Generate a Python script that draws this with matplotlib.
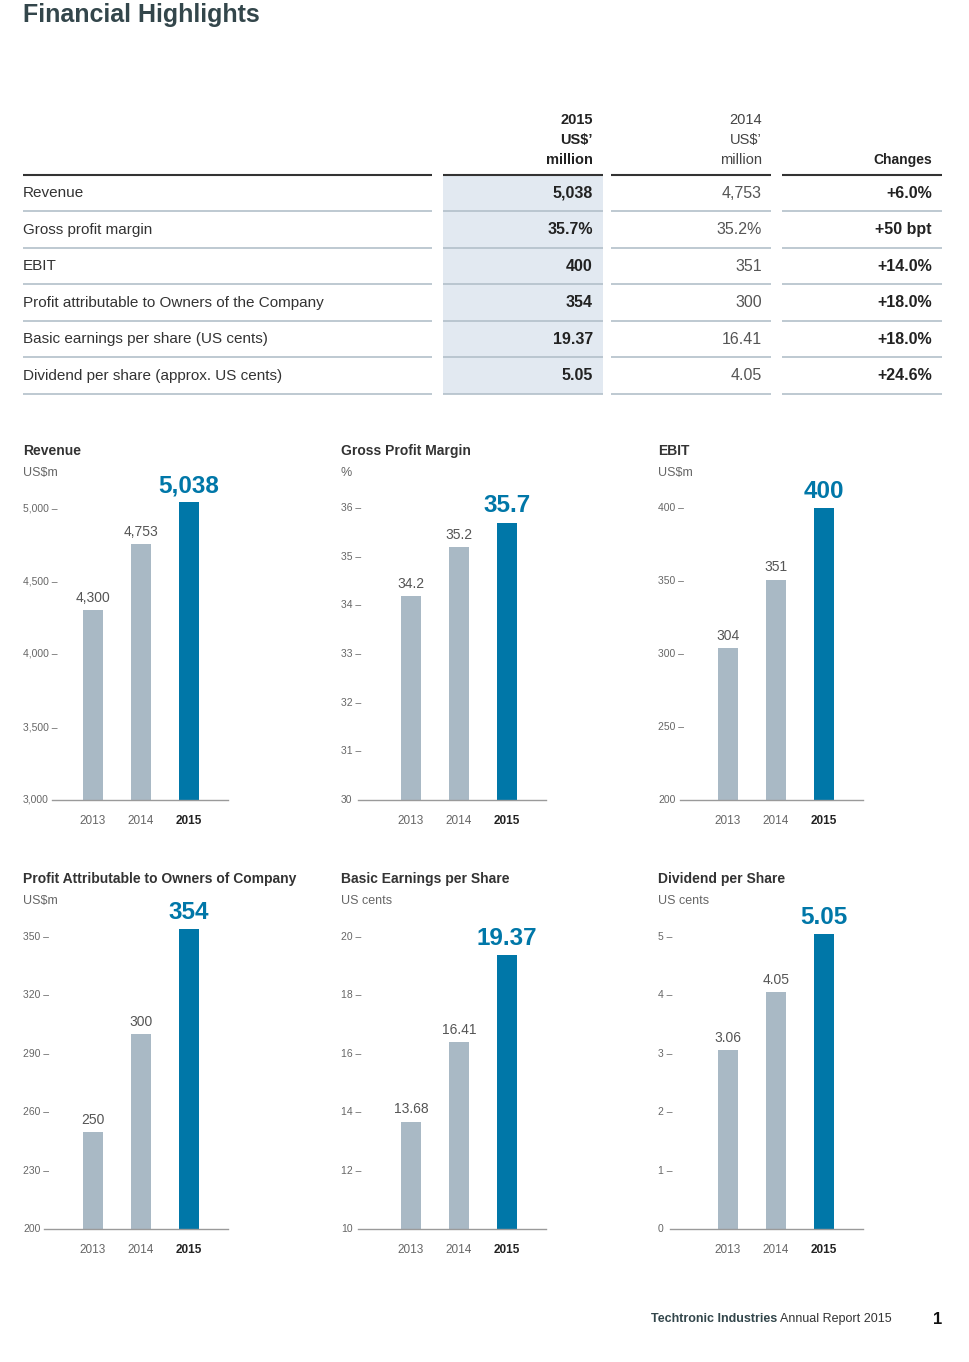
"""
Financial Highlights page: summary table plus six small bar charts.
"""

import matplotlib
matplotlib.use('Agg')
import matplotlib.pyplot as plt
from matplotlib.patches import Rectangle
from matplotlib.transforms import blended_transform_factory


# ---- data ----
years = ['2013', '2014', '2015']
revenue = [4300, 4753, 5038]
gross_margin = [34.2, 35.2, 35.7]
ebit = [304, 351, 400]
profit = [250, 300, 354]
eps = [13.68, 16.41, 19.37]
dps = [3.06, 4.05, 5.05]

revenue_ticks = [3000, 3500, 4000, 4500, 5000]
margin_ticks = [30, 31, 32, 33, 34, 35, 36]
ebit_ticks = [200, 250, 300, 350, 400]
profit_ticks = [200, 230, 260, 290, 320, 350]
eps_ticks = [10, 12, 14, 16, 18, 20]
dps_ticks = [0, 1, 2, 3, 4, 5]

row_labels = ['Revenue', 'Gross profit margin', 'EBIT',
              'Profit attributable to Owners of the Company',
              'Basic earnings per share (US cents)',
              'Dividend per share (approx. US cents)']
col_2015 = ['5,038', '35.7%', '400', '354', '19.37', '5.05']
col_2014 = ['4,753', '35.2%', '351', '300', '16.41', '4.05']
col_change = ['+6.0%', '+50 bpt', '+14.0%', '+18.0%', '+18.0%', '+24.6%']

# ---- style ----
W, H = 970, 1362
GREY_BAR = '#a9b9c5'
BLUE = '#0077a8'
SLATE = '#33464b'
SHADE = '#e2e9f1'
RULE = '#b3c0ca'

plt.rcParams['font.family'] = ['Liberation Sans', 'DejaVu Sans']

fig = plt.figure(figsize=(W / 100, H / 100), dpi=100)
fig.patch.set_facecolor('white')

# page-level axes in pixel coordinates (y downwards)
page = fig.add_axes([0, 0, 1, 1])
page.set_xlim(0, W)
page.set_ylim(H, 0)
page.axis('off')

page.text(23, 22, 'Financial Highlights', fontsize=18, fontweight='bold',
          color=SLATE, va='baseline', ha='left')

# ---- table ----
segments = [(23, 432), (443, 603), (611, 771), (782, 942)]
row_h = 36.6
page.add_patch(Rectangle((443, 176), 160, 218, color=SHADE, zorder=0, lw=0))
for x0, x1 in segments:
    page.plot([x0, x1], [175, 175], color='#333333', lw=1.5, solid_capstyle='butt')
    for k in range(len(row_labels)):
        y = 211 + row_h * k
        page.plot([x0, x1], [y, y], color=RULE, lw=1.2, solid_capstyle='butt')

for j, line in enumerate(['2015', 'US$’', 'million']):
    page.text(593, 120 + 20 * j, line, fontsize=10.5, fontweight='bold',
              color='#222222', ha='right', va='center')
for j, line in enumerate(['2014', 'US$’', 'million']):
    page.text(762, 120 + 20 * j, line, fontsize=10.5, color='#444444',
              ha='right', va='center')
page.text(932, 160, 'Changes', fontsize=10, fontweight='bold',
          color='#222222', ha='right', va='center')

for k in range(len(row_labels)):
    y = 193 + row_h * k
    page.text(23, y, row_labels[k], fontsize=11, color='#333333',
              ha='left', va='center')
    page.text(593, y, col_2015[k], fontsize=11.5, fontweight='bold',
              color='#222222', ha='right', va='center')
    page.text(762, y, col_2014[k], fontsize=11.5, color='#555555',
              ha='right', va='center')
    page.text(932, y, col_change[k], fontsize=11.5, fontweight='bold',
              color='#222222', ha='right', va='center')

# ---- charts ----
charts = [
    ('Revenue', 'US$m', revenue, revenue_ticks, '{:,.0f}', '{:,.0f}'),
    ('Gross Profit Margin', '%', gross_margin, margin_ticks, '{:.0f}', '{:.1f}'),
    ('EBIT', 'US$m', ebit, ebit_ticks, '{:.0f}', '{:.0f}'),
    ('Profit Attributable to Owners of Company', 'US$m', profit, profit_ticks,
     '{:.0f}', '{:.0f}'),
    ('Basic Earnings per Share', 'US cents', eps, eps_ticks, '{:.0f}', '{:.2f}'),
    ('Dividend per Share', 'US cents', dps, dps_ticks, '{:.0f}', '{:.2f}'),
]
col_x = [23, 341, 658]
row_title_y = [451, 879]
row_base = [800, 1229]
row_top_tick = [508, 937]
line_start = [[52, 358, 680], [44, 358, 670]]

for n, (title, unit, values, ticks, tick_fmt, val_fmt) in enumerate(charts):
    r, c = divmod(n, 3)
    cx = col_x[c]
    base = row_base[r]
    top_tick = row_top_tick[r]
    ax_top = top_tick - 40
    left = line_start[r][c]
    right = cx + 205
    c0 = cx + 70          # pixel centre of first bar
    step = 48             # pixels between bars

    page.text(cx, row_title_y[r], title, fontsize=10, fontweight='bold',
              color='#333333', ha='left', va='center')
    page.text(cx, row_title_y[r] + 22, unit, fontsize=9, color='#666666',
              ha='left', va='center')

    ax = fig.add_axes([left / W, 1 - base / H, (right - left) / W,
                       (base - ax_top) / H])
    y0, y1 = ticks[0], ticks[-1]
    ytop = y0 + (y1 - y0) * (base - ax_top) / (base - top_tick)
    xs = list(range(len(years)))
    ax.bar(xs, values, width=20 / step, color=[GREY_BAR, GREY_BAR, BLUE],
           zorder=2)
    ax.set_xlim((left - c0) / step, (right - c0) / step)
    ax.set_ylim(y0, ytop)

    for i, v in enumerate(values):
        if i < len(values) - 1:
            ax.annotate(val_fmt.format(v), xy=(i, v), xytext=(0, 5.8),
                        textcoords='offset points', ha='center', va='baseline',
                        fontsize=10, color='#555555')
        else:
            ax.annotate(val_fmt.format(v), xy=(i, v), xytext=(0, 7.5),
                        textcoords='offset points', ha='center', va='baseline',
                        fontsize=17.5, fontweight='bold', color=BLUE)

    # y tick labels sit at the column's left edge, with a dash as tick mark
    trans = blended_transform_factory(page.transData, ax.transData)
    for k, t in enumerate(ticks):
        label = tick_fmt.format(t) if k == 0 else tick_fmt.format(t) + ' –'
        ax.text(cx, t, label, transform=trans, fontsize=7.5, color='#666666',
                ha='left', va='center', clip_on=False)

    for side in ['left', 'top', 'right']:
        ax.spines[side].set_visible(False)
    ax.spines['bottom'].set_color('#9a9a9a')
    ax.spines['bottom'].set_linewidth(1.0)
    ax.set_yticks([])
    ax.set_xticks(xs, years)
    ax.tick_params(axis='x', length=0, pad=10.5, labelsize=8.5,
                   labelcolor='#666666')
    last = ax.get_xticklabels()[-1]
    last.set_fontweight('bold')
    last.set_color('#222222')
    ax.patch.set_alpha(0)

# ---- footer ----
report = page.text(892, 1319, 'Annual Report 2015', fontsize=9,
                   color='#333333', ha='right', va='center')
page.annotate('Techtronic Industries ', xy=(0, 0.5), xycoords=report,
              fontsize=9, fontweight='bold', color=SLATE,
              ha='right', va='center')
page.text(938, 1319, '1', fontsize=12, fontweight='bold', color='#111111',
          ha='center', va='center')

plt.savefig('out.png', dpi=100)
print("Saved: out.png")
